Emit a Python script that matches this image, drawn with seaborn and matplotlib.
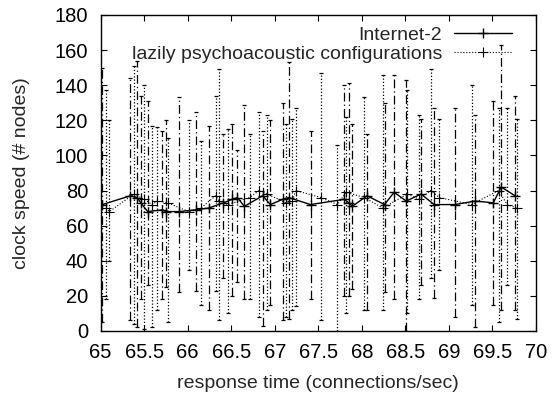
import numpy as np
import pandas as pd
import matplotlib
matplotlib.use("Agg")
import matplotlib.pyplot as plt
import seaborn as sns

# Internet-2 (solid line, dash-dot error bars)
inet_x = [65.02, 65.34, 65.42, 65.46, 65.54, 65.71, 65.75, 65.90, 66.09, 66.24,
          66.41, 66.51, 66.57, 66.65, 66.86, 66.95, 67.09, 67.16, 67.41, 67.80,
          67.85, 67.89, 68.06, 68.26, 68.37, 68.51, 68.68, 68.83, 69.07, 69.30,
          69.51, 69.60, 69.76]
inet_y = [72, 77, 76, 73, 68, 69, 68, 68, 69, 70,
          73, 75, 76, 71, 77, 72, 75, 76, 72, 75,
          73, 71, 77, 72, 79, 74, 78, 72, 72, 74,
          73, 82, 77]
inet_lo = [5, 6, 2, 18, 26, 18, 25, 22, 23, 12,
           30, 20, 28, 18, 3, 15, 6, 7, 18, 20,
           20, 24, 12, 22, 18, 0, 26, 19, 8, 2,
           15, 12, 12]
inet_hi = [150, 144, 154, 134, 131, 114, 120, 133, 125, 117,
           112, 118, 103, 129, 114, 120, 130, 153, 114, 140,
           141, 118, 112, 130, 146, 143, 121, 127, 127, 123,
           131, 163, 134]

# lazily psychoacoustic configurations (dotted line, dotted error bars)
lazy_x = [65.06, 65.10, 65.38, 65.50, 65.59, 65.65, 65.77, 66.01, 66.15, 66.32,
          66.36, 66.46, 66.71, 66.82, 66.91, 67.13, 67.20, 67.24, 67.53, 67.72,
          67.82, 68.03, 68.24, 68.52, 68.66, 68.79, 68.89, 69.26, 69.57, 69.67,
          69.78]
lazy_y = [70, 68, 78, 75, 72, 74, 73, 68, 70, 77,
          74, 72, 76, 80, 78, 73, 74, 80, 76, 72,
          79, 76, 70, 78, 75, 80, 76, 72, 80, 72,
          70]
lazy_lo = [18, 40, 4, 1, 2, 12, 5, 35, 15, 23,
           6, 10, 18, 8, 12, 8, 12, 14, 6, 0,
           10, 12, 12, 10, 18, 30, 35, 15, 5, 26,
           7]
lazy_hi = [137, 120, 151, 140, 117, 116, 110, 120, 108, 134,
           149, 115, 112, 125, 123, 118, 121, 127, 147, 106,
           122, 133, 146, 137, 123, 149, 121, 140, 127, 127,
           121]

labels = ["Internet-2", "lazily psychoacoustic configurations"]
x_ticks = [65, 65.5, 66, 66.5, 67, 67.5, 68, 68.5, 69, 69.5, 70]
y_ticks = list(range(0, 181, 20))

sns.set_style("ticks")
plt.rcParams["font.family"] = ["Liberation Sans", "DejaVu Sans"]
plt.rcParams["font.size"] = 14

fig = plt.figure(figsize=(5.52, 3.94), dpi=100)
ax = fig.add_axes([0.1824, 0.160, 0.9710 - 0.1824, 0.962 - 0.160])

df1 = pd.DataFrame({"x": inet_x, "y": inet_y})
df2 = pd.DataFrame({"x": lazy_x, "y": lazy_y})

dashdot = (0, (7, 2.5, 1, 2.5))
dotted = (0, (1, 1.6))

# error bars
for xs, ys, lo, hi, ls in [(inet_x, inet_y, inet_lo, inet_hi, dashdot),
                           (lazy_x, lazy_y, lazy_lo, lazy_hi, dotted)]:
    ys = np.array(ys)
    err = [ys - np.array(lo), np.array(hi) - ys]
    eb = ax.errorbar(xs, ys, yerr=err, fmt="none", ecolor="black",
                     elinewidth=0.9, capsize=1.6, capthick=0.9)
    for lc in eb[2]:
        lc.set_linestyle(ls)

sns.lineplot(data=df1, x="x", y="y", ax=ax, sort=False, color="black",
             linewidth=1.0, marker="+", markersize=7, markeredgewidth=1.0,
             markeredgecolor="black", label=labels[0])
sns.lineplot(data=df2, x="x", y="y", ax=ax, sort=False, color="black",
             linewidth=0.8, linestyle=":", marker="+", markersize=7,
             markeredgewidth=0.8, markeredgecolor="black", label=labels[1])

ax.set_xlim(65, 70)
ax.set_ylim(0, 180)
ax.set_xticks(x_ticks)
ax.set_xticklabels([f"{t:g}" for t in x_ticks])
ax.set_yticks(y_ticks)
ax.tick_params(direction="in", top=True, right=True, length=4, width=0.8,
               labelsize=14.5, colors="black")
ax.tick_params(axis="y", pad=9)
ax.tick_params(axis="x", pad=9)
for s in ax.spines.values():
    s.set_linewidth(1.0)
    s.set_color("black")

ax.set_xlabel("response time (connections/sec)", fontsize=14, labelpad=9)
ax.set_ylabel("clock speed (# nodes)", fontsize=14, labelpad=18)

ax.legend(loc="upper right", bbox_to_anchor=(0.945, 0.965), frameon=False,
          markerfirst=False, handlelength=3.0, handletextpad=0.6,
          borderpad=0, borderaxespad=0, labelspacing=0.1, fontsize=14)

fig.savefig("out.png", dpi=100)
